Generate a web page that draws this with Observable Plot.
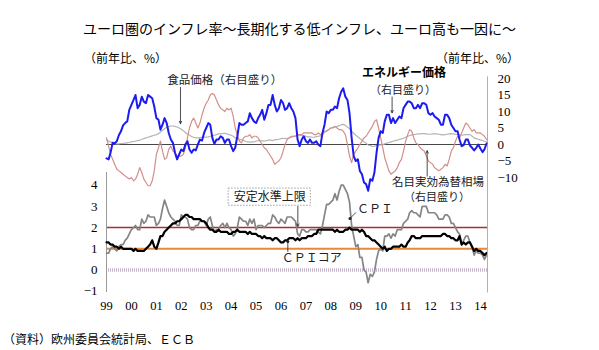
<!DOCTYPE html>
<html><head><meta charset="utf-8">
<script src="https://cdn.jsdelivr.net/npm/d3@7"></script>
<script src="https://cdn.jsdelivr.net/npm/@observablehq/plot@0.6"></script>
<style>
body{margin:0;background:#fff;}
#wrap{position:relative;width:599px;height:350px;overflow:hidden;background:#fff;}
#wrap svg{position:absolute;left:0;top:0;}
.t{position:absolute;white-space:nowrap;font-family:"Noto Sans CJK JP";color:#000;line-height:1;}
</style></head><body>
<div id="wrap">
<div class="t" style="left:0;width:599px;text-align:center;top:21px;font-size:14px;">ユーロ圏のインフレ率～長期化する低インフレ、ユーロ高も一因に～</div>
<div class="t" style="left:84px;top:52px;font-size:12px;">（前年比、%）</div>
<div class="t" style="left:436px;top:52px;font-size:12px;">（前年比、%）</div>
<div class="t" style="left:3px;top:333px;font-size:12px;">（資料）欧州委員会統計局、ＥＣＢ</div>
</div>
<script>
// monthly data, Jan 1999 – Apr 2014 (% y/y)
const cpi = [
0.8,0.8,1.0,1.1,1.0,0.9,1.1,1.2,1.2,1.4,1.5,1.7,
1.9,2.0,2.1,1.9,1.9,2.4,2.2,2.3,2.6,2.5,2.5,2.5,
2.1,2.2,2.4,2.9,3.3,3.0,2.7,2.5,2.4,2.3,2.1,2.1,
2.6,2.5,2.5,2.4,2.0,1.9,1.9,2.1,2.1,2.3,2.3,2.3,
2.1,2.4,2.5,2.1,1.8,1.9,1.9,2.1,2.2,2.0,2.2,2.0,
1.9,1.6,1.7,2.0,2.5,2.4,2.3,2.3,2.1,2.4,2.2,2.4,
1.9,2.1,2.1,2.1,2.0,2.1,2.2,2.2,2.6,2.5,2.3,2.2,
2.4,2.3,2.2,2.5,2.5,2.5,2.4,2.3,1.7,1.6,1.9,1.9,
1.8,1.8,1.9,1.9,1.9,1.9,1.8,1.7,2.1,2.6,3.1,3.1,
3.2,3.3,3.6,3.3,3.7,4.0,4.0,3.8,3.6,3.2,2.1,1.6,
1.1,1.2,0.6,0.6,0.0,-0.1,-0.6,-0.2,-0.3,-0.1,0.5,0.9,
1.0,0.9,1.6,1.6,1.7,1.5,1.7,1.6,1.9,1.9,1.9,2.2,
2.3,2.4,2.7,2.8,2.7,2.7,2.6,2.5,3.0,3.0,3.0,2.7,
2.7,2.7,2.7,2.6,2.4,2.4,2.4,2.6,2.6,2.5,2.2,2.2,
2.0,1.8,1.7,1.2,1.4,1.6,1.6,1.3,1.1,0.7,0.9,0.8,
0.8,0.7,0.5,0.7];
const core = [
1.3,1.3,1.2,1.2,1.1,1.1,1.0,1.1,1.0,1.0,1.0,1.0,
1.0,0.9,1.0,0.9,0.9,0.9,0.9,1.0,1.1,1.2,1.4,1.1,
1.0,1.3,1.6,1.6,1.8,1.9,2.0,2.1,2.2,2.2,2.3,2.3,
2.4,2.5,2.6,2.6,2.5,2.5,2.4,2.4,2.4,2.4,2.3,2.3,
2.2,2.0,1.9,1.9,1.8,1.8,1.9,1.8,1.8,1.8,1.8,1.7,
1.7,1.8,1.8,1.9,1.8,1.8,1.8,1.8,1.7,1.8,1.7,1.7,
1.7,1.6,1.6,1.5,1.6,1.5,1.5,1.5,1.4,1.5,1.5,1.4,
1.3,1.3,1.4,1.4,1.5,1.5,1.5,1.4,1.5,1.4,1.5,1.5,
1.5,1.6,1.6,1.6,1.7,1.7,1.9,1.9,1.9,1.9,1.9,1.9,
1.9,1.9,1.8,1.9,1.8,1.8,1.8,1.9,1.9,2.0,1.9,1.9,
1.9,1.9,1.8,1.9,1.8,1.6,1.6,1.5,1.4,1.4,1.3,1.2,
1.1,1.0,1.1,0.9,1.0,1.0,1.1,1.1,1.1,1.1,1.2,1.1,
1.1,1.3,1.4,1.6,1.6,1.5,1.5,1.5,1.6,1.6,1.6,1.6,
1.6,1.6,1.6,1.6,1.6,1.6,1.7,1.7,1.6,1.6,1.5,1.5,
1.4,1.4,1.6,1.2,1.3,1.2,1.3,1.3,1.1,0.9,1.0,0.9,
0.9,0.8,0.7,0.8];
const energy = [
-4.2,-4.5,-2.5,0.5,0.4,1.0,2.8,4.0,5.8,6.5,7.0,10.5,
12.0,13.5,15.0,11.0,12.0,14.5,13.0,12.5,15.0,14.5,14.0,11.5,
8.0,7.5,4.5,6.0,8.0,6.5,3.5,1.5,0.5,-2.5,-4.5,-3.0,
-1.5,-2.0,0.0,1.0,-1.5,-2.5,-1.5,-1.8,0.0,1.5,1.2,3.5,
5.0,6.5,6.0,2.0,0.2,1.5,1.5,2.5,2.0,0.5,1.5,1.5,
-0.5,-2.0,-1.0,2.5,6.5,6.0,6.0,6.5,7.0,9.5,8.0,7.0,
6.5,8.0,9.0,10.5,7.5,9.5,12.0,12.0,15.0,12.0,10.0,11.0,
13.5,12.5,10.5,11.0,12.5,11.0,10.0,8.0,1.5,-0.5,1.5,2.5,
1.0,0.5,1.5,0.5,0.5,1.0,0.0,-0.5,3.5,6.0,10.0,9.5,
10.5,10.5,11.5,11.0,14.0,16.0,17.0,14.5,13.5,9.5,2.0,-3.5,
-5.0,-4.5,-8.0,-9.0,-11.5,-12.0,-14.0,-10.5,-11.0,-8.5,-2.5,2.0,
4.0,3.5,7.0,9.0,9.0,6.5,8.0,6.5,7.5,8.5,8.0,11.0,
12.0,13.0,13.0,12.5,11.0,11.0,12.0,11.0,12.5,12.5,12.0,9.5,
9.0,9.5,8.5,8.0,7.5,6.0,6.0,9.0,9.0,8.0,6.0,5.0,
4.0,4.0,1.5,-0.5,-0.2,1.5,1.5,-0.3,-1.0,-1.8,-1.0,0.0,
-1.2,-2.3,-1.5,0.3];
const food = [
1.5,1.0,0.8,0.5,0.3,0.2,0.2,0.3,0.3,0.4,0.5,0.6,
0.8,0.9,1.0,1.2,1.3,1.5,1.8,2.0,2.2,2.4,2.6,2.8,
3.0,3.3,3.8,4.3,4.8,5.2,5.4,5.6,5.6,5.5,5.3,5.0,
4.6,4.2,3.6,3.2,2.8,2.4,2.2,2.0,2.0,2.1,2.2,2.3,
2.2,2.3,2.5,2.6,2.8,3.0,3.2,3.3,3.3,3.4,3.2,3.0,
2.8,2.5,2.0,1.8,1.6,1.4,1.2,0.9,0.8,0.7,0.8,0.8,
1.0,1.2,1.2,1.1,1.0,1.2,1.3,1.3,1.2,1.4,1.5,1.6,
1.8,1.9,1.8,1.9,2.0,2.2,2.4,2.6,2.8,2.8,2.7,2.6,
2.5,2.3,2.3,2.2,2.2,2.4,2.5,2.6,3.0,3.6,4.2,4.5,
5.0,5.2,5.4,5.5,5.7,6.0,6.1,5.8,5.3,4.8,4.0,3.4,
2.8,2.3,1.8,1.4,0.8,0.4,-0.2,-0.3,-0.6,-0.5,-0.3,-0.2,
-0.1,0.0,0.2,0.4,0.6,0.8,1.0,1.2,1.3,1.5,1.7,1.9,
2.2,2.5,2.7,2.9,3.0,3.1,3.2,3.2,3.3,3.3,3.2,3.1,
3.1,3.2,3.2,3.2,3.1,3.0,2.9,3.0,3.1,3.2,3.3,3.2,
3.1,3.0,2.9,2.8,2.9,3.0,3.0,3.0,2.5,2.0,1.8,1.6,
1.4,1.2,1.0,0.8];
const neer = [
2.0,-0.5,-3.0,-4.5,-6.0,-7.5,-8.0,-8.5,-9.0,-9.5,-10.0,-10.5,
-10.0,-11.0,-10.5,-9.0,-7.0,-8.5,-10.5,-11.5,-12.5,-12.5,-11.0,-8.0,
-3.0,-1.0,1.0,-2.0,-4.5,-4.0,-1.5,-0.5,-2.0,-2.5,-3.5,-3.5,
-3.5,-3.0,-1.0,2.0,5.0,7.0,8.0,6.5,5.0,6.5,9.0,11.0,
12.5,13.5,15.0,15.5,15.0,13.5,12.0,11.0,10.5,10.0,11.0,10.5,
11.0,8.5,5.0,3.0,1.0,0.5,2.0,2.5,2.5,3.0,2.0,2.5,
2.5,2.0,1.0,0.0,-1.0,-1.5,-2.5,-3.5,-4.5,-6.0,-5.5,-5.0,
-4.0,-2.0,0.0,1.5,2.0,2.5,2.5,2.5,3.0,3.0,3.0,3.5,
3.5,3.5,3.5,3.5,3.0,3.0,3.5,3.0,3.5,4.0,4.0,4.5,
5.0,5.0,5.5,5.0,4.5,4.5,4.0,3.0,0.0,-3.5,-5.5,-3.0,
-2.0,-1.0,0.0,1.0,2.0,2.5,3.5,4.5,5.5,7.0,7.5,5.0,
2.0,-1.0,-4.0,-6.0,-8.0,-9.0,-8.5,-8.0,-7.0,-5.5,-4.5,-2.0,
1.0,3.0,4.5,4.0,2.0,0.5,0.0,-1.0,-1.5,-2.0,-3.5,-5.0,
-5.5,-6.0,-7.0,-7.5,-8.0,-7.5,-7.0,-6.0,-6.5,-4.5,-2.0,-1.0,
1.0,2.5,2.0,3.5,5.0,6.5,6.0,5.0,4.0,4.5,3.5,3.5,
3.5,3.0,2.5,1.5];
const yearLabels = ["99","00","01","02","03","04","05","06","07","08","09","10","11","12","13","14"];
const upperTicks = [-10,-5,0,5,10,15,20];
const lowerTicks = [-1,0,1,2,3,4];

// annotations (date, value)
const upperLabels = [
  {text:"食品価格（右目盛り）", date:"2003-10-01", v:19.4, size:11.5, bold:false},
  {text:"エネルギー価格", date:"2010-12-10", v:21.6, size:12, bold:true},
  {text:"（右目盛り）", date:"2010-11-25", v:16.5, size:11, bold:false},
  {text:"名目実効為替相場", date:"2012-04-20", v:-11.4, size:11.5, bold:false},
  {text:"（右目盛り）", date:"2012-04-05", v:-16.2, size:11, bold:false}
];
const upperArrows = [
  {d:"2001-12-20", v1:17.3, v2:6.3},
  {d:"2010-06-17", v1:14.4, v2:9.6},
  {d:"2011-11-13", v1:-9.6, v2:-1.9}
];
const lowerLabels = [
  {text:"安定水準上限", date:"2005-07-20", v:3.44},
  {text:"ＣＰＩ", date:"2009-10-10", v:2.85},
  {text:"ＣＰＩコア", date:"2007-03-28", v:0.57}
];

const start = new Date(Date.UTC(1999,0,1));
const end = new Date(Date.UTC(2014,3,15));
const rows = cpi.map((c,i)=>({date:new Date(Date.UTC(1999,i,1)), cpi:c, core:core[i], energy:energy[i], food:food[i], neer:neer[i]}));
const yearTicks = yearLabels.map((_,i)=>new Date(Date.UTC(1999+i,0,1)));
const D = s => new Date(s+"T00:00:00Z");
const jp = "Noto Sans CJK JP";
const intFmt = d => d < 0 ? "−" + (-d) : String(d);

const common = {
  width:599, height:350, marginLeft:106, marginRight:112, marginTop:0, marginBottom:52,
  style:{background:"transparent", fontFamily:"Liberation Serif", fontSize:"13px", color:"#000"}
};

const upper = Plot.plot({
  ...common,
  x:{type:"utc", domain:[start,end], range:[106,487], axis:null},
  y:{domain:[-10,20], range:[177,78]},
  marks:[
    Plot.ruleY([0],{stroke:"#333",strokeWidth:0.9}),
    Plot.ruleX([end],{y1:20.5,y2:-45,stroke:"#b0b0b0",strokeWidth:1}),
    Plot.axisY({anchor:"right", ticks:upperTicks, tickFormat:intFmt, tickSize:0, tickPadding:10, label:null, fontSize:13}),
    Plot.line(rows,{x:"date",y:"food",stroke:"#b4b4b4",strokeWidth:1.2}),
    Plot.line(rows,{x:"date",y:"neer",stroke:"#d48e8a",strokeWidth:1.2}),
    Plot.line(rows,{x:"date",y:"energy",stroke:"#1c1cf0",strokeWidth:2}),
    Plot.arrow(upperArrows,{x:d=>D(d.d),y1:"v1",y2:"v2",stroke:"#222",strokeWidth:0.8,headLength:5,headAngle:50}),
    Plot.text(upperLabels.filter(d=>!d.bold),{x:d=>D(d.date),y:"v",text:"text",fontFamily:jp,fontSize:d=>d.size,fill:"#222"}),
    Plot.text(upperLabels.filter(d=>d.bold),{x:d=>D(d.date),y:"v",text:"text",fontFamily:jp,fontSize:d=>d.size,fontWeight:"bold",fill:"#000"})
  ]
});

const boxes = [{x1:"2003-11-26", x2:"2007-03-14", v1:3.84, v2:3.03}];
const lower = Plot.plot({
  ...common,
  x:{type:"utc", domain:[start,end], range:[106,487]},
  y:{domain:[-1,4], range:[290.7,184.7]},
  marks:[
    Plot.ruleY([0],{stroke:"#c4b6c8",strokeWidth:3.5,strokeDasharray:"1,1"}),
    Plot.ruleY([1],{stroke:"#e8883a",strokeWidth:2}),
    Plot.ruleY([2],{stroke:"#a83030",strokeWidth:1.5}),
    Plot.ruleX([start],{y1:4.6,y2:-1.06,stroke:"#999",strokeWidth:1}),
    Plot.axisY({anchor:"left", ticks:lowerTicks, tickFormat:intFmt, tickSize:0, tickPadding:9, label:null, fontSize:13}),
    Plot.axisX({ticks:yearTicks, tickFormat:d=>yearLabels[d.getUTCFullYear()-1999], tickSize:0, tickPadding:3, label:null, fontSize:12.5}),
    Plot.line(rows,{x:"date",y:"cpi",stroke:"#858585",strokeWidth:1.7}),
    Plot.line(rows,{x:"date",y:"core",stroke:"#000",strokeWidth:2.2}),
    Plot.rect(boxes,{x1:d=>D(d.x1),x2:d=>D(d.x2),y1:"v1",y2:"v2",fill:"#fff",stroke:"#888",strokeDasharray:"1.5,1.5",strokeWidth:0.8}),
    Plot.arrow([{d:"2006-09-05",v1:3.0,v2:2.06}],{x:d=>D(d.d),y1:"v1",y2:"v2",stroke:"#222",strokeWidth:0.8,headLength:5,headAngle:50}),
    Plot.link([{d1:"2009-01-05",v1:2.72,d2:"2008-10-08",v2:2.43}],{x1:d=>D(d.d1),y1:"v1",x2:d=>D(d.d2),y2:"v2",stroke:"#222",strokeWidth:0.8}),
    Plot.dot([{d:"2008-10-08",v:2.43}],{x:d=>D(d.d),y:"v",r:1.5,fill:"#222"}),
    Plot.link([{d:"2006-04-11",v1:0.85,v2:1.34}],{x:d=>D(d.d),y1:"v1",y2:"v2",stroke:"#222",strokeWidth:0.8}),
    Plot.dot([{d:"2006-04-11",v:1.34}],{x:d=>D(d.d),y:"v",r:1.5,fill:"#222"}),
    Plot.text(lowerLabels,{x:d=>D(d.date),y:"v",text:"text",fontFamily:jp,fontSize:12,fill:"#222"})
  ]
});

const wrap = document.getElementById("wrap");
wrap.appendChild(lower);
wrap.appendChild(upper);
</script>
</body></html>
